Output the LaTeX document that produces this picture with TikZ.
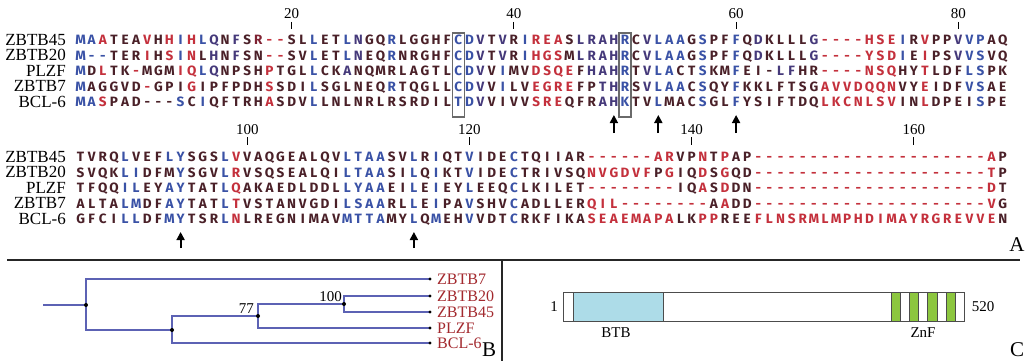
\documentclass[tikz,border=0pt]{standalone}
\usepackage{fontspec}
\setmainfont{Liberation Serif}
\newfontfamily\resfont{Fira Sans}
\usetikzlibrary{arrows.meta}
\definecolor{cb}{HTML}{3A52A6}
\definecolor{cr}{HTML}{C4303C}
\definecolor{ck}{HTML}{4A2028}
\definecolor{cn}{HTML}{45397A}
\definecolor{cm}{HTML}{7E2232}
\definecolor{treeblue}{HTML}{5C62B4}
\definecolor{leafred}{HTML}{A3292E}
\definecolor{btbblue}{HTML}{ADDCE8}
\definecolor{znfgreen}{HTML}{8CC63F}
\definecolor{boxgray}{HTML}{6A6A6A}
\newcount\srcol
\makeatletter
\def\seqrow#1#2#3{\def\sr@y{#1}\srcol=0 \sr@loop#2\relax#3\relax}
\def\sr@loop#1#2\relax#3#4\relax{%
  \advance\srcol by 1
  \node[res,text=c#3] at ({69.5+11.11*\the\srcol},\sr@y) {#1};%
  \ifx\relax#2\relax\expandafter\@gobble\else\expandafter\@firstofone\fi
  {\sr@loop#2\relax#4\relax}}
\makeatother
\tikzset{
  res/.style={font=\resfont\bfseries\fontsize{13.5}{13.5}\selectfont, inner sep=0pt, anchor=base},
  seqname/.style={font=\fontsize{17}{17}\selectfont, inner sep=0pt, anchor=base east},
  posnum/.style={font=\fontsize{15}{15}\selectfont, inner sep=0pt, anchor=base},
  tickline/.style={line width=1.1pt, black},
  colbox/.style={draw=boxgray, line width=1.1pt},
  markarrow/.style={line width=1.8pt, -{Triangle[width=8pt,length=8pt]}},
  panel/.style={font=\fontsize{21}{21}\selectfont, inner sep=0pt},
  treeline/.style={draw=treeblue, line width=1.3pt},
  treedot/.style={circle, fill=black, inner sep=0pt, minimum size=4pt},
  leaf/.style={font=\fontsize{16}{16}\selectfont, text=leafred, inner sep=0pt, anchor=west},
  boot/.style={font=\fontsize{15}{15}\selectfont, inner sep=0pt, anchor=base east},
  dlabel/.style={font=\fontsize{15}{15}\selectfont, inner sep=0pt},
  sep/.style={line width=1.6pt, draw=black!85},
}
\begin{document}
\begin{tikzpicture}[x=1pt,y=-1pt]
\useasboundingbox[fill=white] (0,0) rectangle (1028,361);
% ---------- Panel A, block 1 ----------
\foreach \j in {20,40,60,80}{
  \node[posnum] (ta\j) at ({69.5+11.11*\j},19) {\j};
  \draw[tickline] ({69.5+11.11*\j},22) -- ({69.5+11.11*\j},29);
}
\node[seqname] (n1a) at (66,45.2) {ZBTB45};
\node[seqname] (n1b) at (66,60.7) {ZBTB20};
\node[seqname] (n1c) at (66,76.2) {PLZF};
\node[seqname] (n1d) at (66,91.7) {ZBTB7};
\node[seqname] (n1e) at (66,107.2) {BCL-6};
\seqrow{44.9}{MAATEAVHHIHLQNFSR--SLLETLNGQRLGGHFCDVTVRIREASLRAHRCVLAAGSPFFQDKLLLG----HSEIRVPPVVPAQ}{bbrkkkrkrb rbnknkmrrk kbkkbnkkbk kkkkbbnknk brrrknnnnb knbbbkbkkb knkkkknrrr rrrrbkrkkn bbkk}
\seqrow{60.4}{M--TERIHSINLHNFSN--SVLETLNEQRNRGHFCDVTVRIHGSMLRAHRCVLAAGSPFFQDKLLLG----YSDIEIPSVVSVQ}{bbbkkkrkrb rknknkkrrk kbkkbnkkbk kkkkbbnknk brrrknnnnb knbbbkbkkb knkkkknrrr rrrrbkrkkn bbkk}
\seqrow{75.9}{MDLTK-MGMIQLQNPSHPTGLLCKANQMRLAGTLCDVVIMVDSQEFHAHRTVLACTSKMFEI-LFHR----NSQHYTLDFLSPK}{bkrkkrkkkr rbnkkkkrkk kbkknkkkkk kkkkbbnkbk krrrrknnnb knbbkkbkkb kkknnkkrrr rrrrkkrkkk bbkk}
\seqrow{91.4}{MAGGVD-GPIGIPFPDHSSDILSGLNEQRTQGLLCDVVILVEGREFPTHRSVLAACSQYFKKLFTSGAVVDQQNVYEIDFVSAE}{bkkkkkrkkk rkkkkkkrkk kbkkkkkkbk kkkkbbnkbk krrrrkknnb knbbbkbkkb kkkkkkkrrr rrrrkkrkkk bbkk}
\seqrow{106.9}{MASPAD---SCIQFTRHASDVLLNLNRLRSRDILTDVVIVVSREQFRAHKTVLMACSGLFYSIFTDQLKCNLSVINLDPEISPE}{bbrkkkkkkb kbkkkkkrkk kbkkkkkkkk kkkkbbnkkk krrrkkknnb kkbkkkbkkb kkkkkkkrrr rrrrkkrkkk kbkk}
\draw[colbox] (452.5,33) rectangle (464.5,117);
\draw[colbox] (619,33) rectangle (631,117);
\coordinate (a1s) at ({69.5+11.11*49},133); \coordinate (a1e) at ({69.5+11.11*49},115);
\coordinate (a2s) at ({69.5+11.11*53},133); \coordinate (a2e) at ({69.5+11.11*53},115);
\coordinate (a3s) at ({69.5+11.11*60},133); \coordinate (a3e) at ({69.5+11.11*60},115);
\draw[markarrow] (a1s) -- (a1e);
\draw[markarrow] (a2s) -- (a2e);
\draw[markarrow] (a3s) -- (a3e);
% ---------- Panel A, block 2 ----------
\foreach \j/\lab in {16/100,36/120,56/140,76/160}{
  \node[posnum] (tb\lab) at ({69.5+11.11*\j},134) {\lab};
  \draw[tickline] ({69.5+11.11*\j},137) -- ({69.5+11.11*\j},145);
}
\node[seqname] (n2a) at (66,162.2) {ZBTB45};
\node[seqname] (n2b) at (66,177.7) {ZBTB20};
\node[seqname] (n2c) at (66,193.2) {PLZF};
\node[seqname] (n2d) at (66,208.7) {ZBTB7};
\node[seqname] (n2e) at (66,224.2) {BCL-6};
\seqrow{161.9}{TVRQLVEFLYSGSLVVAQGEALQVLTAASVLRIQTVIDECTQIIAR------ARVPNTPAP---------------------AP}{kkkkbkkkbb kkkbrkkkkk kkkkbbbbkk bkbkkbkkkb kkkkkkrrrr rrrrkkrkrk krrrrrrrrr rrrrrrrrrr rrrk}
\seqrow{177.4}{SVQKLIDFMYSGVLRVSQSEALQILTAASILQIKTVIDECTRIVSQNVGDVFPGIQDSGQD---------------------TP}{kkkkbbkkkb kkkbrkkkkk kkkkbbbbkk bkbkkbkkkb kkkkkkrrrr rrkrkkrkrk krrrrrrrrr rrrrrrrrrr rrrk}
\seqrow{192.9}{TFQQILEYAYTATLQAKAEDLDDLLYAAEILEIEYLEEQCLKILET--------IQASDDN---------------------DT}{kkkkbbkkbb kkkbrkkkkk kkkkbbbbkk bkbkkbkkkb kkkkkkrrrr rrrrkkrkrk krrrrrrrrr rrrrrrrrrr rrrk}
\seqrow{208.4}{ALTALMDFAYTATLTVSTANVGDILSAARLLEIPAVSHVCADLLERQIL--------AADD---------------------VG}{kkkkbbkkbb kkkbrkkkkk kkkkbbbbkk bkbkkbkkkb kkkkkkrrrr rrrrrrrkrk krrrrrrrrr rrrrrrrrrr rrrk}
\seqrow{223.9}{GFCILLDFMYTSRLNLREGNIMAVMTTAMYLQMEHVVDTCRKFIKASEAEMAPALKPPREEFLNSRMLMPHDIMAYRGREVVEN}{kkkkbbkkbb kkkbrkkkkk kkkkbbbbkk bkbkkbkkkb kkkkkkrrrr rrrrkkrrkk krrrrrrrrr rrrrrrrrrr rrrk}
\coordinate (b1s) at ({69.5+11.11*10},248); \coordinate (b1e) at ({69.5+11.11*10},232);
\coordinate (b2s) at ({69.5+11.11*31},248); \coordinate (b2e) at ({69.5+11.11*31},232);
\draw[markarrow] (b1s) -- (b1e);
\draw[markarrow] (b2s) -- (b2e);
\node[panel] (pa) at (1017,245) {A};
% ---------- separators ----------
\coordinate (hl) at (7,260); \coordinate (hr) at (1020,260);
\coordinate (vt) at (502,260); \coordinate (vb) at (502,361);
\draw[sep] (hl) -- (hr);
\draw[sep] (vt) -- (vb);
% ---------- Panel B: tree ----------
\coordinate (r0) at (43,305);
\coordinate (t1) at (86,305);
\coordinate (t2) at (172,330);
\coordinate (t3) at (258,316);
\coordinate (t4) at (344,304);
\coordinate (lz7) at (430,279);
\coordinate (lz20) at (430,296);
\coordinate (lz45) at (430,312);
\coordinate (lpl) at (430,328);
\coordinate (lbc) at (430,343);
\draw[treeline] (r0) -- (t1);
\draw[treeline] (t1) |- (lz7);
\draw[treeline] (t1) |- (t2);
\draw[treeline] (t2) |- (t3);
\draw[treeline] (t2) |- (lbc);
\draw[treeline] (t3) |- (t4);
\draw[treeline] (t3) |- (lpl);
\draw[treeline] (t4) |- (lz20);
\draw[treeline] (t4) |- (lz45);
\foreach \p in {t1,t2,t3,t4}{\node[treedot] at (\p) {};}
\foreach \p in {lz7,lz20,lz45,lpl,lbc}{\node[treedot,minimum size=3.2pt] at (\p) {};}
\node[leaf] (bz7) at (437,279) {ZBTB7};
\node[leaf] (bz20) at (437,296) {ZBTB20};
\node[leaf] (bz45) at (437,312) {ZBTB45};
\node[leaf] (bpl) at (437,328) {PLZF};
\node[leaf] (bbc) at (437,343) {BCL-6};
\node[boot] (bs77) at (254,313) {77};
\node[boot] (bs100) at (342,301.5) {100};
\node[panel] (pb) at (489,350) {B};
% ---------- Panel C: domains ----------
\draw[draw=black!70, line width=1pt, fill=white] (563,292) rectangle (964,321);
\draw[draw=black!70, line width=1pt, fill=btbblue] (573,292) rectangle (663,321);
\foreach \a/\b in {891/900,909/918,927/937,946/955}{
  \draw[draw=black!70, line width=1pt, fill=znfgreen] (\a,292) rectangle (\b,321);
}
\node[dlabel] (c1) at (554,306.5) {1};
\node[dlabel] (c520) at (983,306.5) {520};
\node[dlabel] (cbtb) at (616,333) {BTB};
\node[dlabel] (cznf) at (923,333) {ZnF};
\node[panel] (pc) at (1017,350) {C};
\end{tikzpicture}
\end{document}
